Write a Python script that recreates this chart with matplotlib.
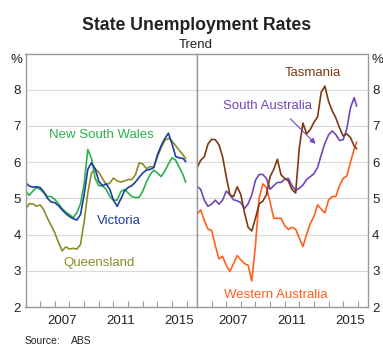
import numpy as np
import matplotlib
matplotlib.use("Agg")
import matplotlib.pyplot as plt
from matplotlib.ticker import FixedLocator, FixedFormatter

plt.rcParams['font.family'] = ['Liberation Sans', 'DejaVu Sans']

# --- DATA (quarterly reads off the chart, % unemployment, trend) ---
t = np.append(np.arange(2005, 2016, 0.25), 2015.92)

nsw = [5.21, 5.08, 5.20, 5.30, 5.25, 5.15, 5.05, 5.05, 4.97, 4.85, 4.72, 4.62,
       4.55, 4.47, 4.60, 4.85, 5.40, 6.35, 6.10, 5.55, 5.35, 5.35, 5.25, 5.05,
       4.95, 4.95, 5.18, 5.25, 5.15, 5.05, 5.02, 5.03, 5.20, 5.45, 5.65, 5.78,
       5.70, 5.60, 5.75, 5.95, 6.12, 6.05, 5.85, 5.65, 5.45]
vic = [5.44, 5.34, 5.31, 5.32, 5.30, 5.18, 5.00, 4.90, 4.88, 4.80, 4.68, 4.58,
       4.50, 4.44, 4.40, 4.55, 5.10, 5.80, 5.98, 5.82, 5.47, 5.35, 5.40, 5.25,
       4.95, 4.78, 4.98, 5.20, 5.30, 5.35, 5.45, 5.58, 5.70, 5.78, 5.80, 5.85,
       6.20, 6.45, 6.65, 6.80, 6.50, 6.15, 6.12, 6.10, 6.02]
qld = [4.70, 4.85, 4.85, 4.78, 4.82, 4.68, 4.45, 4.25, 4.05, 3.78, 3.55, 3.66,
       3.60, 3.62, 3.60, 3.72, 4.35, 5.15, 5.70, 5.82, 5.72, 5.55, 5.38, 5.42,
       5.56, 5.48, 5.45, 5.48, 5.52, 5.52, 5.65, 5.98, 5.95, 5.82, 5.88, 5.86,
       6.15, 6.40, 6.60, 6.66, 6.58, 6.45, 6.32, 6.20, 6.10]
tas = [5.84, 6.05, 6.15, 6.50, 6.63, 6.62, 6.48, 6.15, 5.60, 5.10, 5.05, 5.32,
       5.10, 4.60, 4.20, 4.10, 4.45, 4.85, 4.92, 5.10, 5.60, 5.80, 6.08, 5.65,
       5.55, 5.48, 5.24, 5.15, 6.40, 7.08, 6.78, 6.90, 7.10, 7.25, 7.93, 8.10,
       7.68, 7.42, 7.22, 6.95, 6.72, 6.78, 6.68, 6.45, 6.37]
sa = [5.33, 5.25, 4.95, 4.78, 4.84, 4.95, 4.84, 4.95, 5.20, 5.10, 4.96, 4.93,
      4.88, 4.72, 4.85, 5.10, 5.50, 5.66, 5.66, 5.55, 5.25, 5.35, 5.44, 5.44,
      5.53, 5.55, 5.35, 5.22, 5.28, 5.37, 5.52, 5.60, 5.68, 5.85, 6.20, 6.52,
      6.75, 6.86, 6.76, 6.60, 6.62, 6.92, 7.50, 7.78, 7.55]
wa = [4.56, 4.68, 4.40, 4.15, 4.12, 3.70, 3.33, 3.40, 3.15, 2.98, 3.20, 3.42,
      3.30, 3.20, 3.15, 2.72, 3.70, 5.00, 5.40, 5.30, 4.90, 4.45, 4.45, 4.45,
      4.25, 4.14, 4.20, 4.15, 3.90, 3.67, 4.00, 4.30, 4.50, 4.82, 4.70, 4.60,
      4.95, 5.05, 5.05, 5.35, 5.55, 5.62, 6.00, 6.35, 6.55]

year_ticks = list(range(2006, 2017))
year_labels = ['2007', '2011', '2015']
y_ticks = [2, 3, 4, 5, 6, 7, 8]

# colours
C_NSW = '#2bb24c'
C_VIC = '#1c3f9f'
C_QLD = '#8c8c2a'
C_TAS = '#7b3a12'
C_SA = '#7048b8'
C_WA = '#ff5f1f'
FRAME = '#9a9a9a'
GRID = '#d9d9d9'
TXT = '#222222'

fig = plt.figure(figsize=(3.83, 3.59), dpi=100)
W, H = 383.0, 359.0
bottom = (H - 307) / H
height = (307 - 53.5) / H
ax1 = fig.add_axes([25.5 / W, bottom, 171.5 / W, height])
ax2 = fig.add_axes([197 / W, bottom, 171 / W, height])

for ax in (ax1, ax2):
    ax.set_xlim(2005.0, 2016.7)
    ax.set_ylim(2, 9)
    ax.set_yticks(y_ticks)
    ax.set_yticklabels([str(v) for v in y_ticks])
    ax.grid(axis='y', color=GRID, lw=0.8)
    ax.set_axisbelow(True)
    for s in ax.spines.values():
        s.set_color(FRAME)
        s.set_linewidth(1.0)
    ax.xaxis.set_major_locator(FixedLocator(year_ticks))
    ax.xaxis.set_major_formatter(FixedFormatter([''] * len(year_ticks)))
    ax.xaxis.set_minor_locator(FixedLocator([2007.5, 2011.5, 2015.5]))
    ax.xaxis.set_minor_formatter(FixedFormatter(year_labels))
    ax.tick_params(axis='x', which='major', direction='in', length=4,
                   color=FRAME, width=0.8)
    ax.tick_params(axis='x', which='minor', length=0, labelsize=9.5, pad=6,
                   labelcolor=TXT)
    ax.tick_params(axis='y', length=0, labelsize=9.5, labelcolor=TXT)

ax1.tick_params(axis='y', pad=3.5)
ax2.yaxis.tick_right()
ax2.tick_params(axis='y', pad=3)

# left panel
ax1.plot(t, qld, color=C_QLD, lw=1.2)
ax1.plot(t, nsw, color=C_NSW, lw=1.2)
ax1.plot(t, vic, color=C_VIC, lw=1.2)
ax1.text(2010.2, 6.75, 'New South Wales', color=C_NSW, fontsize=9.5,
         ha='center', va='center')
ax1.text(2011.4, 4.37, 'Victoria', color=C_VIC, fontsize=9.5,
         ha='center', va='center')
ax1.text(2010.0, 3.22, 'Queensland', color=C_QLD, fontsize=9.5,
         ha='center', va='center')

# right panel
ax2.plot(t, wa, color=C_WA, lw=1.2)
ax2.plot(t, sa, color=C_SA, lw=1.2)
ax2.plot(t, tas, color=C_TAS, lw=1.2)
ax2.text(2012.9, 8.45, 'Tasmania', color=C_TAS, fontsize=9.5,
         ha='center', va='center')
ax2.text(2009.8, 7.55, 'South Australia', color=C_SA, fontsize=9.5,
         ha='center', va='center')
ax2.annotate('', xy=(2013.25, 6.45), xytext=(2011.25, 7.25),
             arrowprops=dict(arrowstyle='-|>', color=C_SA, lw=0.8,
                             mutation_scale=8))
ax2.text(2010.4, 2.32, 'Western Australia', color=C_WA, fontsize=9.5,
         ha='center', va='center')

# % labels
fig.text(22 / W, 1 - 60 / H, '%', fontsize=9.5, ha='right', va='center',
         color=TXT)
fig.text(371 / W, 1 - 60 / H, '%', fontsize=9.5, ha='left', va='center',
         color=TXT)

# titles
fig.text(197 / W, 1 - 25 / H, 'State Unemployment Rates', fontsize=12.7,
         fontweight='bold', ha='center', va='center', color=TXT)
fig.text(196 / W, 1 - 45 / H, 'Trend', fontsize=9.5, ha='center',
         va='center', color=TXT)

fig.text(25 / W, 1 - 341 / H, 'Source:', fontsize=7.5, ha='left',
         va='center', color=TXT)
fig.text(71 / W, 1 - 341 / H, 'ABS', fontsize=7.5, ha='left',
         va='center', color=TXT)

fig.savefig('out.png', dpi=100)
